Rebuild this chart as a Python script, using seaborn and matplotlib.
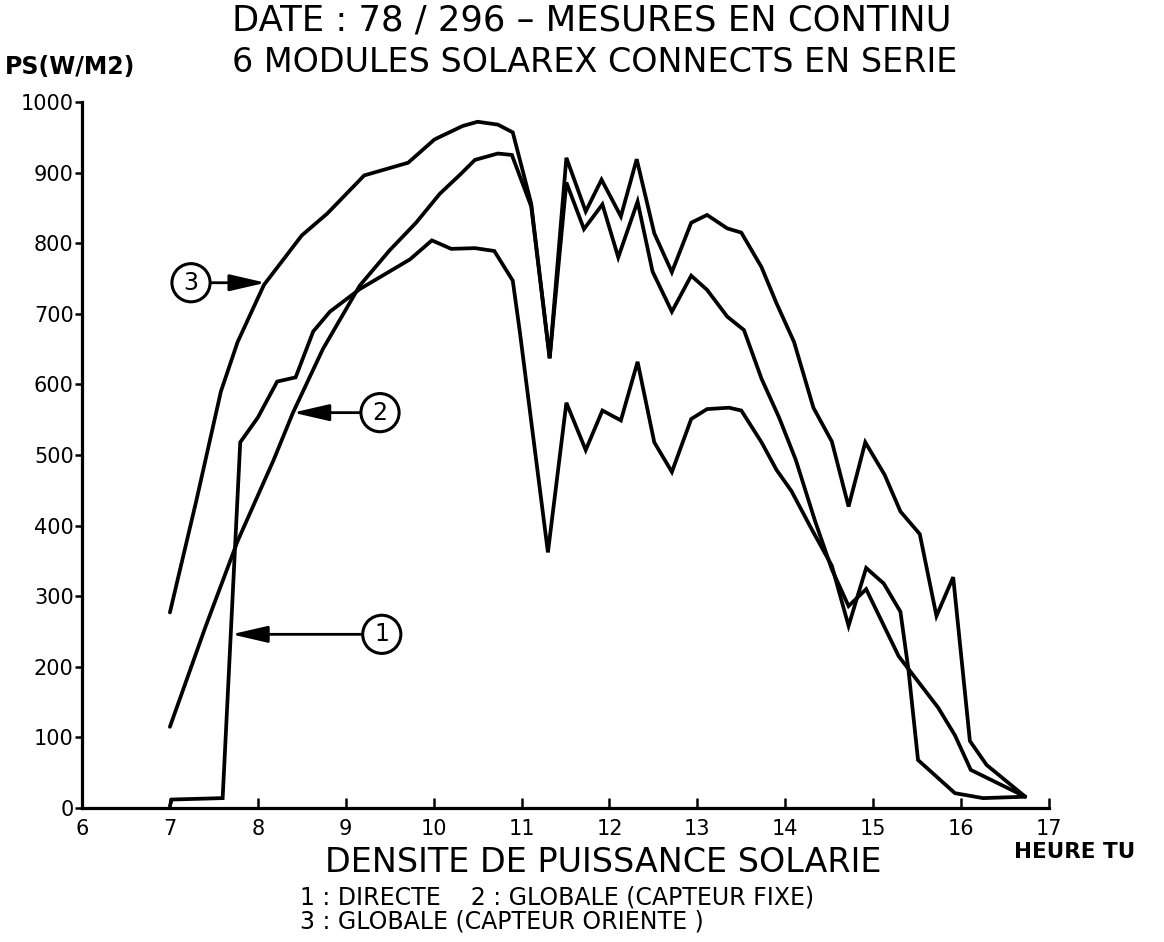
import matplotlib
matplotlib.use("Agg")
import matplotlib.pyplot as plt
import seaborn as sns
import pandas as pd

# ---------------- data ----------------
hours_direct = [7.0, 7.02, 7.6, 7.8, 8.0, 8.22, 8.43, 8.63, 8.82, 9.16, 9.73, 9.98,
                10.2, 10.47, 10.69, 10.9, 10.98, 11.3, 11.51, 11.73, 11.92, 12.13,
                12.32, 12.51, 12.71, 12.93, 13.11, 13.36, 13.5, 13.73, 13.9, 14.07,
                14.3, 14.53, 14.72, 14.92, 15.12, 15.31, 15.4, 15.51, 15.93, 16.25, 16.73]
ps_direct = [3, 12, 14, 518, 553, 604, 610, 675, 703, 735, 777, 804,
             792, 793, 789, 747, 675, 362, 574, 507, 563, 549,
             632, 518, 476, 551, 565, 567, 563, 518, 479, 449,
             395, 343, 258, 340, 318, 278, 197, 68, 21, 14, 16]

hours_fixe = [7.0, 7.4, 7.77, 8.18, 8.4, 8.74, 9.16, 9.5, 9.8, 10.07, 10.3, 10.47,
              10.73, 10.89, 11.11, 11.32, 11.51, 11.71, 11.92, 12.1, 12.32, 12.49,
              12.71, 12.93, 13.11, 13.34, 13.53, 13.73, 13.93, 14.12, 14.34, 14.53,
              14.72, 14.92, 15.29, 15.74, 15.93, 16.11, 16.73]
ps_fixe = [115, 255, 378, 493, 560, 650, 740, 790, 829, 870, 897, 918,
           927, 925, 852, 637, 886, 820, 855, 780, 859, 760,
           703, 754, 734, 696, 677, 608, 553, 493, 406, 338,
           286, 310, 215, 142, 103, 54, 16]

hours_oriente = [7.0, 7.3, 7.58, 7.77, 8.07, 8.5, 8.79, 9.21, 9.71, 10.01, 10.33,
                 10.5, 10.73, 10.9, 11.11, 11.32, 11.51, 11.73, 11.91, 12.13, 12.31,
                 12.51, 12.71, 12.93, 13.11, 13.34, 13.5, 13.73, 13.9, 14.1, 14.32,
                 14.53, 14.72, 14.91, 15.13, 15.31, 15.53, 15.72, 15.91, 16.1, 16.29, 16.73]
ps_oriente = [277, 435, 590, 660, 741, 811, 842, 896, 914, 947, 966,
              972, 968, 957, 856, 637, 921, 845, 890, 838, 919,
              814, 759, 829, 840, 821, 815, 766, 715, 660, 567,
              519, 427, 518, 472, 420, 388, 272, 327, 95, 61, 16]

x_ticks = [6, 7, 8, 9, 10, 11, 12, 13, 14, 15, 16, 17]
y_ticks = [0, 100, 200, 300, 400, 500, 600, 700, 800, 900, 1000]

curve_labels = ["1", "2", "3"]

title_lines = ["DATE : 78 / 296 – MESURES EN CONTINU",
               "6 MODULES SOLAREX CONNECTS EN SERIE"]
y_label = "PS(W/M2)"
x_label = "HEURE TU"
caption = "DENSITE DE PUISSANCE SOLARIE"
legend_lines = ["1 : DIRECTE    2 : GLOBALE (CAPTEUR FIXE)",
                "3 : GLOBALE (CAPTEUR ORIENTE )"]

# ---------------- figure ----------------
sns.set_style("ticks", {"text.color": "black", "xtick.color": "black",
                        "ytick.color": "black", "axes.edgecolor": "black",
                        "axes.labelcolor": "black"})
plt.rcParams["font.family"] = ["DejaVu Sans"]

W, H = 1164, 942
fig = plt.figure(figsize=(W / 100, H / 100), dpi=100)
ax = fig.add_axes([82 / W, 1 - 808 / H, (1049 - 82) / W, (808 - 102) / H])

series = [(hours_direct, ps_direct), (hours_fixe, ps_fixe), (hours_oriente, ps_oriente)]
for hx, vy in series:
    df = pd.DataFrame({"heure": hx, "ps": vy})
    sns.lineplot(data=df, x="heure", y="ps", ax=ax, color="black", linewidth=2.7,
                 sort=False, estimator=None, solid_joinstyle="miter")

ax.set_xlim(6, 17)
ax.set_ylim(0, 1000)
ax.set_xticks(x_ticks)
ax.set_yticks(y_ticks)
ax.set_xticklabels([str(t) for t in x_ticks])
ax.set_yticklabels([str(t) for t in y_ticks])
ax.set_xlabel("")
ax.set_ylabel("")
for s in ["top", "right"]:
    ax.spines[s].set_visible(False)
for s in ["left", "bottom"]:
    ax.spines[s].set_linewidth(2.3)
ax.tick_params(axis="x", direction="in", length=7, width=1.8, labelsize=15, pad=8)
ax.tick_params(axis="y", direction="out", length=5, width=1.8, labelsize=15, pad=1)

# circled curve numbers with arrows
ann = [("3", (7.24, 744), (8.09, 744)),
       ("2", (9.39, 560), (8.40, 560)),
       ("1", (9.41, 246), (7.70, 246))]
for lab, txy, pxy in ann:
    ax.annotate(lab, xy=pxy, xytext=txy, ha="center", va="center", fontsize=17,
                bbox=dict(boxstyle="circle,pad=0.3", fc="white", ec="black", lw=2.2),
                arrowprops=dict(arrowstyle="-|>,head_length=1.3,head_width=0.3",
                                color="black", lw=2, shrinkA=0, shrinkB=0))

def ftext(x, y, s, **kw):
    fig.text(x / W, 1 - y / H, s, color="black", **kw)

ftext(592, 21, title_lines[0], ha="center", va="center", fontsize=25.5)
ftext(595, 63, title_lines[1], ha="center", va="center", fontsize=24)
ftext(5, 67, y_label, ha="left", va="center", fontsize=17, fontweight="bold")
ftext(1014, 852, x_label, ha="left", va="center", fontsize=15.5, fontweight="bold")
ftext(603, 863, caption, ha="center", va="center", fontsize=24)
ftext(300, 898, legend_lines[0], ha="left", va="center", fontsize=17)
ftext(300, 922, legend_lines[1], ha="left", va="center", fontsize=17)

fig.savefig("out.png", dpi=100, facecolor="white")
